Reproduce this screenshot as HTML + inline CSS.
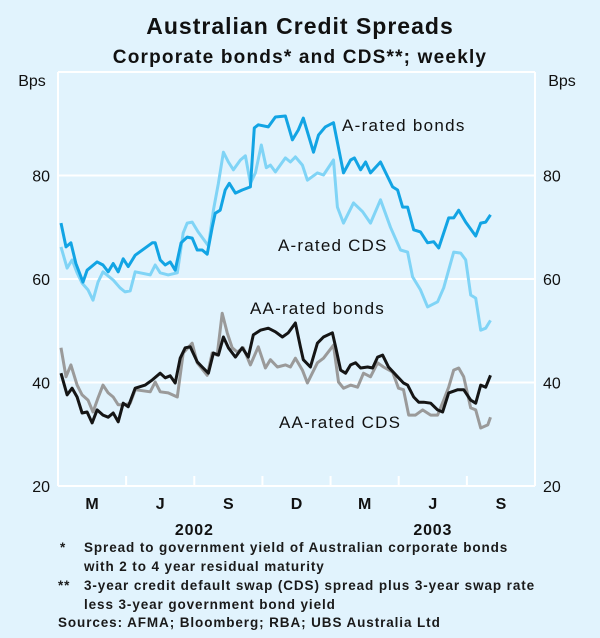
<!DOCTYPE html>
<html><head><meta charset="utf-8"><style>
body{margin:0;background:#e1f3fd;}
svg{display:block;font-family:"Liberation Sans",Arial,sans-serif;}
</style></head><body>
<svg id="chart" width="600" height="638" viewBox="0 0 600 638">
<rect x="0" y="0" width="600" height="638" fill="#e1f3fd"/>
<text x="300" y="34" text-anchor="middle" font-size="23" font-weight="bold" letter-spacing="1" fill="#111">Australian Credit Spreads</text>
<text x="300" y="63" text-anchor="middle" font-size="19" font-weight="bold" letter-spacing="1.2" fill="#111">Corporate bonds* and CDS**; weekly</text>
<text x="32" y="86" text-anchor="middle" font-size="16" fill="#111">Bps</text>
<text x="562" y="86" text-anchor="middle" font-size="16" fill="#111">Bps</text>
<g id="grid"></g>
<g id="series"></g>
<g id="labels"></g>
<text x="342" y="131" font-size="17" letter-spacing="1.3" fill="#111">A-rated bonds</text>
<text x="278" y="251" font-size="17" letter-spacing="1.2" fill="#111">A-rated CDS</text>
<text x="250" y="314" font-size="17" letter-spacing="1.2" fill="#111">AA-rated bonds</text>
<text x="279" y="428" font-size="17" letter-spacing="1.2" fill="#111">AA-rated CDS</text>
<g font-size="13.5" font-weight="bold" letter-spacing="0.9" fill="#1a1a1a">
<text x="60" y="552">*</text>
<text x="84" y="552">Spread to government yield of Australian corporate bonds</text>
<text x="84" y="571">with 2 to 4 year residual maturity</text>
<text x="58" y="590">**</text>
<text x="84" y="590">3-year credit default swap (CDS) spread plus 3-year swap rate</text>
<text x="84" y="609">less 3-year government bond yield</text>
<text x="58" y="627">Sources: AFMA; Bloomberg; RBA; UBS Australia Ltd</text>
</g>
</svg>
<script>
const yTicks = [20, 40, 60, 80, 100];
const yTickLabels = ["20", "40", "60", "80", ""];
const quarterLabels = ["M", "J", "S", "D", "M", "J", "S"];
const yearLabels = ["2002", "2003"];
const yearLabelMonths = [6, 16.5];
// [month since 1 Jan 2002, bps]
const aRatedBonds = [[0.13,70.8],[0.35,66.2],[0.57,67],[0.79,63],[1.10,59.4],[1.28,61.7],[1.72,63.3],[1.98,62.7],[2.21,61.4],[2.43,63],[2.65,61.4],[2.87,63.9],[3.09,62.4],[3.40,64.6],[4.15,67],[4.28,67],[4.50,63.7],[4.72,62.7],[4.94,63.3],[5.16,61.7],[5.42,67],[5.69,68.1],[5.91,67.9],[6.13,65.6],[6.35,65.6],[6.57,64.8],[6.79,70],[6.92,72.7],[7.14,73.3],[7.36,77.2],[7.54,78.5],[7.81,76.6],[8.11,77.2],[8.47,77.8],[8.64,89.2],[8.82,89.8],[9.26,89.4],[9.57,91.3],[10.01,91.5],[10.32,86.9],[10.58,88.8],[10.80,91.1],[11.25,84.5],[11.47,87.8],[11.77,89.4],[12.13,90.2],[12.57,80.5],[12.88,83],[13.05,83.4],[13.32,81.1],[13.54,82.6],[13.76,80.5],[14.20,82.6],[14.73,77.8],[14.95,77.2],[15.17,73.9],[15.39,73.9],[15.66,69.5],[15.96,69.1],[16.27,67],[16.54,67.2],[16.76,66],[17.20,71.8],[17.42,71.8],[17.64,73.3],[17.95,71],[18.39,68.3],[18.61,70.8],[18.83,71],[19.04,72.4]];
const aRatedCds = [[0.13,66.2],[0.40,62.1],[0.62,63.7],[0.84,61.2],[1.06,59.2],[1.32,57.9],[1.54,55.9],[1.76,59.4],[1.98,61.4],[2.43,59.8],[2.73,58.3],[2.95,57.5],[3.18,57.7],[3.40,61.4],[4.06,60.8],[4.28,62.7],[4.50,61.2],[4.85,60.8],[5.25,61.2],[5.51,68.9],[5.69,70.8],[5.91,71],[6.17,69.1],[6.62,66.4],[6.84,73.3],[7.06,78.5],[7.28,84.5],[7.50,82.6],[7.72,81.1],[8.03,83],[8.25,83.8],[8.47,78.5],[8.69,80.5],[8.95,85.9],[9.17,81.5],[9.35,82],[9.57,80.7],[10.01,83.4],[10.23,82.6],[10.45,83.6],[10.76,82],[10.98,79.1],[11.42,80.5],[11.69,80.1],[12.13,83],[12.30,73.9],[12.57,70.8],[13.01,74.7],[13.41,73],[13.76,70.8],[14.20,75.3],[14.64,70],[15.08,65.6],[15.39,65.2],[15.61,60.4],[15.96,57.9],[16.27,54.6],[16.71,55.6],[16.98,58.3],[17.42,65.2],[17.73,65],[17.95,63.7],[18.17,56.9],[18.39,56.3],[18.61,50.1],[18.83,50.5],[19.04,52]];
const aaRatedBonds = [[0.13,41.8],[0.40,37.6],[0.62,38.9],[0.84,37.2],[1.06,34.1],[1.28,34.3],[1.50,32.2],[1.72,34.7],[1.98,33.7],[2.21,33.3],[2.43,34.1],[2.65,32.4],[2.87,36],[3.09,35.3],[3.40,38.9],[3.84,39.5],[4.15,40.5],[4.50,41.8],[4.72,40.9],[4.94,41.3],[5.16,39.9],[5.38,44.7],[5.60,46.7],[5.82,46.9],[6.13,44],[6.35,43],[6.62,41.8],[6.84,45.7],[7.06,45.3],[7.28,48.8],[7.50,46.7],[7.81,44.9],[8.11,46.7],[8.38,44.9],[8.60,49.2],[8.91,50.1],[9.26,50.5],[9.57,49.8],[9.88,48.8],[10.14,49.6],[10.45,51.5],[10.67,46.9],[10.80,44.4],[11.11,43],[11.42,47.6],[11.69,48.8],[12.08,49.6],[12.22,46.9],[12.44,42.4],[12.66,41.8],[12.88,43.4],[13.10,43.8],[13.32,42.8],[13.63,43],[13.85,42.8],[14.07,44.9],[14.29,45.3],[14.55,43],[14.95,41.1],[15.21,39.9],[15.39,39.5],[15.66,37.2],[15.88,36.2],[16.10,36.2],[16.41,36],[16.71,34.7],[16.93,34.3],[17.20,38],[17.60,38.6],[17.86,38.6],[18.17,36.6],[18.39,36],[18.61,39.5],[18.83,39.1],[19.04,41.4]];
const aaRatedCds = [[0.13,46.7],[0.35,41.1],[0.57,43.4],[0.84,39.5],[1.06,37.6],[1.32,36.6],[1.54,34.3],[1.76,37],[1.98,39.5],[2.21,38],[2.43,37.2],[2.65,35.7],[2.95,35.7],[3.18,36],[3.40,38.6],[4.06,38.2],[4.28,40.1],[4.50,38.2],[4.85,38],[5.25,37.2],[5.51,45.7],[5.91,47.6],[6.13,43.8],[6.57,41.4],[6.79,45.7],[7.01,45.3],[7.23,53.4],[7.45,49.6],[7.67,46.7],[7.89,45.9],[8.16,46.7],[8.47,43.4],[8.82,46.9],[9.13,42.8],[9.35,44.4],[9.66,43],[10.01,43.4],[10.23,43],[10.45,44.7],[10.76,42.4],[10.98,39.9],[11.42,43.8],[11.69,44.7],[12.13,47.2],[12.35,40.1],[12.57,38.9],[12.88,39.5],[13.19,39.1],[13.45,41.8],[13.76,41.1],[14.07,43.8],[14.33,43],[14.73,42],[14.99,38.9],[15.21,38.6],[15.44,33.7],[15.74,33.7],[16.05,34.7],[16.41,33.7],[16.71,33.7],[16.98,36.6],[17.20,39.1],[17.42,42.4],[17.64,42.8],[17.86,41.1],[18.17,35.1],[18.39,34.7],[18.61,31.2],[18.92,31.8],[19.04,33.3]];

const NS = "http://www.w3.org/2000/svg";
const X0 = 58, X1 = 535, Y0 = 486, Y1 = 72;
const xMin = 0, xMax = 21, yMin = 20, yMax = 100;
function xScale(m){ return X0 + (m - xMin) / (xMax - xMin) * (X1 - X0); }
function yScale(v){ return Y0 - (v - yMin) / (yMax - yMin) * (Y0 - Y1); }
function mk(tag, attrs, parent){ const e = document.createElementNS(NS, tag); for (const k in attrs) e.setAttribute(k, attrs[k]); parent.appendChild(e); return e; }

const grid = document.getElementById("grid");
yTicks.forEach((t, i) => {
  const y = yScale(t);
  const g = mk("line", {x1: X0, x2: X1, y1: y, y2: y, stroke: "#ffffff", "stroke-width": 2}, grid);
  
  
  if (yTickLabels[i]) {
    const l = mk("text", {x: 50, y: y + 6, "text-anchor": "end", "font-size": 16, fill: "#111"}, grid);
    l.textContent = yTickLabels[i];
    
    
    const r = mk("text", {x: 543, y: y + 6, "text-anchor": "start", "font-size": 16, fill: "#111"}, grid);
    r.textContent = yTickLabels[i];
    
    
  }
});
[X0, X1].forEach((x, i) => {
  const b = mk("line", {x1: x, x2: x, y1: Y1, y2: Y0, stroke: "#ffffff", "stroke-width": 2}, grid);
  
  
});
for (let q = 0; q <= quarterLabels.length; q++) {
  const x = xScale(q * 3);
  const t = mk("line", {x1: x, x2: x, y1: Y0, y2: Y0 - 10, stroke: "#ffffff", "stroke-width": 2}, grid);
  
  
}
quarterLabels.forEach((lab, q) => {
  const t = mk("text", {x: xScale(q * 3 + 1.5), y: 509, "text-anchor": "middle", "font-size": 16, "font-weight": "bold", fill: "#111"}, grid);
  t.textContent = lab;
  
  
});
yearLabels.forEach((lab, i) => {
  const t = mk("text", {x: xScale(yearLabelMonths[i]), y: 535, "text-anchor": "middle", "font-size": 16, "font-weight": "bold", "letter-spacing": 0.8, fill: "#111"}, grid);
  t.textContent = lab;
  
  
});

const seriesG = document.getElementById("series");
function drawSeries(data, color, name){
  const p = mk("polyline", {points: data.map(d => xScale(d[0]).toFixed(1) + "," + yScale(d[1]).toFixed(1)).join(" "), fill: "none", stroke: color, "stroke-width": 3, "stroke-linejoin": "round"}, seriesG);
  
  
}
drawSeries(aaRatedCds, "#9a9a9a", "aa-rated-cds-line");
drawSeries(aaRatedBonds, "#151515", "aa-rated-bonds-line");
drawSeries(aRatedCds, "#80d4f6", "a-rated-cds-line");
drawSeries(aRatedBonds, "#12a4e4", "a-rated-bonds-line");
</script>
</body></html>
